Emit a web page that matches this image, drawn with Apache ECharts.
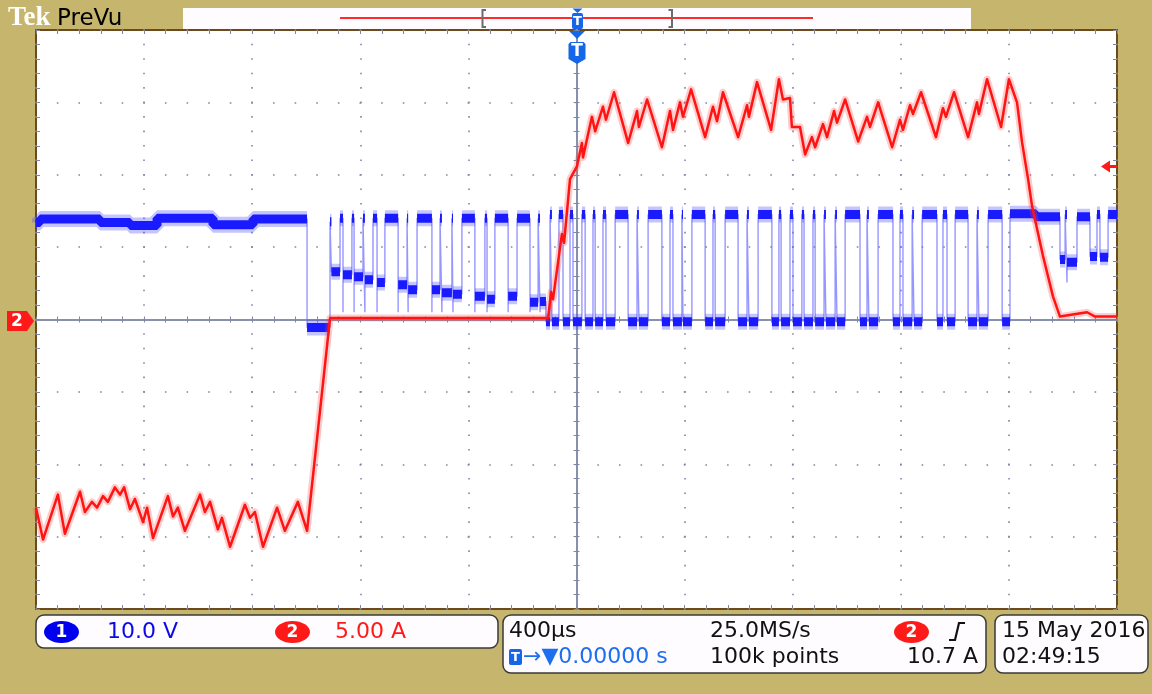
<!DOCTYPE html>
<html><head><meta charset="utf-8">
<script src="https://cdn.jsdelivr.net/npm/echarts@6/dist/echarts.min.js"></script>
<style>html,body{margin:0;padding:0;background:#c5b56d;overflow:hidden}#c{width:1152px;height:694px}</style>
</head><body><div id="c"></div>
<script>
// ---------------- DATA ----------------
// time axis (µs), 400 µs/div, trigger at 0
const timeRange = [-2000, 2000];
const timeStep = 400;
// channel 1 (V), 10 V/div : plateaus [tStart µs, tEnd µs, volts]
const ch1Segments = [
  [-2000,-1985,13.4],[-1985,-1763,13.9],[-1763,-1652,13.4],[-1652,-1552,13.0],[-1552,-1345,14.0],[-1345,-1197,13.1],[-1197,-997,13.9],
  [-997,-912,-1.1],[-912,-907,13.5],[-907,-875,6.6],
  [-875,-864,14.0],[-864,-864,1.0],[-864,-831,6.2],
  [-831,-823,14.0],[-823,-823,1.0],[-823,-790,5.9],
  [-790,-783,14.0],[-783,-783,1.0],[-783,-753,5.5],
  [-753,-738,14.0],[-738,-738,1.0],[-738,-709,5.1],
  [-709,-660,14.0],[-660,-660,1.0],[-660,-627,4.8],
  [-627,-623,14.0],[-623,-623,1.0],[-623,-590,4.1],
  [-590,-535,14.0],[-535,-535,1.0],[-535,-505,4.1],
  [-505,-498,14.0],[-498,-498,1.0],[-498,-461,3.7],
  [-461,-457,14.0],[-457,-457,1.0],[-457,-424,3.5],
  [-424,-376,14.0],[-376,-376,1.0],[-376,-339,3.2],
  [-339,-331,14.0],[-331,-331,1.0],[-331,-302,2.8],
  [-302,-253,14.0],[-253,-253,1.0],[-253,-220,3.2],
  [-220,-172,14.0],[-172,-172,1.0],[-172,-142,2.4],
  [-142,-135,14.0],[-135,-135,1.0],[-135,-113,2.5],
  [-113,-98,-0.3],
  [-98,-91,14.5],[-91,-65,-0.3],[-65,-50,14.5],[-50,-24,-0.3],[-24,-13,14.5],[-13,20,-0.3],[20,32,14.5],[32,61,-0.3],
  [61,69,14.5],[69,98,-0.3],[98,109,14.5],[109,143,-0.3],[143,191,14.5],[191,224,-0.3],[224,231,14.5],[231,265,-0.3],
  [265,316,14.5],[316,346,-0.3],[346,357,14.5],[357,390,-0.3],[390,394,14.5],[394,427,-0.3],[427,476,14.5],[476,505,-0.3],
  [505,513,14.5],[513,550,-0.3],[550,598,14.5],[598,631,-0.3],[631,638,14.5],[638,672,-0.3],[672,723,14.5],[723,749,-0.3],
  [749,757,14.5],[757,790,-0.3],[790,801,14.5],[801,834,-0.3],[834,842,14.5],[842,875,-0.3],[875,883,14.5],[883,916,-0.3],
  [916,923,14.5],[923,957,-0.3],[957,964,14.5],[964,994,-0.3],[994,1049,14.5],[1049,1075,-0.3],[1075,1082,14.5],[1082,1116,-0.3],
  [1116,1171,14.5],[1171,1197,-0.3],[1197,1208,14.5],[1208,1242,-0.3],[1242,1249,14.5],[1249,1279,-0.3],[1279,1334,14.5],[1334,1356,-0.3],
  [1356,1371,14.5],[1371,1401,-0.3],[1401,1449,14.5],[1449,1482,-0.3],[1482,1489,14.5],[1489,1523,-0.3],[1523,1575,14.5],[1575,1604,-0.3],
  [1604,1700,14.6],[1700,1789,14.2],
  [1789,1808,8.3],[1808,1815,14.5],[1815,1815,5.1],[1815,1852,7.9],[1852,1900,14.2],[1900,1926,8.7],[1926,1937,14.5],[1937,1967,8.6],[1967,2000,14.5]
];
// channel 2 (A), 5 A/div : [time µs, amps]
const ch2Points = [
  [-2000,-13.0],[-1974,-15.2],[-1919,-12.1],[-1893,-14.8],[-1837,-11.9],[-1819,-13.3],[-1793,-12.6],[-1774,-13.0],[-1752,-12.2],
  [-1734,-12.6],[-1708,-11.6],[-1689,-12.1],[-1674,-11.6],[-1652,-13.1],[-1634,-12.4],[-1604,-14.0],[-1589,-13.0],[-1567,-15.1],
  [-1512,-12.2],[-1493,-13.6],[-1475,-13.0],[-1449,-14.6],[-1393,-12.1],[-1375,-13.3],[-1356,-12.6],[-1327,-14.5],[-1312,-13.7],
  [-1282,-15.7],[-1227,-12.8],[-1208,-13.7],[-1190,-13.3],[-1160,-15.7],[-1108,-13.0],[-1079,-14.6],[-1031,-12.6],[-997,-14.6],
  [-912,0.1],[-105,0.1],[-94,1.9],[-87,1.4],[-54,5.9],[-46,5.3],[-24,9.7],[2,10.6],[20,12.2],[24,11.2],[57,14.0],[69,13.0],
  [98,14.7],[109,13.8],[139,15.7],[191,12.2],[224,14.4],[231,13.3],[261,15.2],[316,11.9],[346,14.4],[357,13.1],[383,15.0],
  [394,14.0],[424,15.9],[476,12.6],[505,14.7],[520,13.7],[542,15.7],[598,12.6],[631,14.8],[638,14.0],[668,16.4],[720,13.1],
  [749,16.6],[764,15.2],[790,15.3],[797,13.3],[827,13.3],[846,11.4],[871,12.6],[883,11.9],[912,13.5],[927,12.6],[953,14.4],
  [964,13.6],[994,15.2],[1042,12.3],[1075,14.0],[1086,13.3],[1116,15.0],[1168,11.9],[1197,13.8],[1208,13.1],[1234,14.8],
  [1245,14.2],[1275,15.7],[1330,12.6],[1356,14.6],[1367,14.0],[1397,15.7],[1449,12.6],[1482,15.0],[1489,14.2],[1519,16.6],
  [1571,13.3],[1600,16.6],[1630,15.0],[1649,12.2],[1671,9.7],[1686,7.8],[1726,4.4],[1763,1.6],[1789,0.2],[1889,0.5],[1919,0.2],[2000,0.2]
];
const ch1Scale = [-40, 40, 10];
const ch2Scale = [-20, 20, 5];
const divScale = [-4, 4, 1];
const headerTexts = ['Tek', 'PreVu'];
const ch1Label = '10.0 V', ch2Label = '5.00 A';
const timebase = '400µs', sampleRate = '25.0MS/s', recordLength = '100k points';
const triggerPos = '→▼0.00000 s', triggerLevel = '10.7 A';
const dateText = '15 May 2016', timeText = '02:49:15';

// ---------------- BUILD ----------------
const thinData = [];
ch1Segments.forEach(([a, b, v]) => { thinData.push([a, v], [b, v]); });
const thickData = [];
let prev = null;
ch1Segments.forEach(([a, b, v]) => {
  if (b <= a) { prev = null; return; }
  if (!(prev && prev[1] === a && Math.abs(prev[2] - v) < 1.5)) { if (thickData.length) thickData.push([a, '-']); }
  thickData.push([a, v], [b, v]);
  prev = [a, b, v];
});

const GR = {left: 36, top: 30, width: 1081, height: 579};
const DOT = '#7d88a6';
const minorV = GR.height / 40, minorH = GR.width / 50;
function xAx(grid, pos, opts) {
  return Object.assign({type: 'value', gridIndex: grid, position: pos, min: timeRange[0], max: timeRange[1], interval: timeStep,
    axisLabel: {show: false}, splitLine: {show: false}}, opts);
}
function yAx(grid, pos, sc, opts) {
  return Object.assign({type: 'value', gridIndex: grid, position: pos, min: sc[0], max: sc[1], interval: sc[2],
    axisLabel: {show: false}, splitLine: {show: false}}, opts);
}
const borderTick = {show: true, inside: true, length: 4, lineStyle: {color: DOT, width: 1}};
const borderMinor = {show: true, splitNumber: 5, length: 4, lineStyle: {color: DOT, width: 1}};
const centerLine = {show: true, onZero: true, lineStyle: {color: '#8891ab', width: 2}};
const cTick = {show: true, inside: true, length: 3, lineStyle: {color: DOT, width: 1}};
const cMinor = {show: true, splitNumber: 5, length: 3, lineStyle: {color: DOT, width: 1}};

const W = '#fffcff';
const TB = '#1566e8';
const txt = (x, y, text, color, size, extra) => Object.assign({type: 'text', x, y, z: 100,
  style: Object.assign({text, fill: color, fontSize: size, fontFamily: 'DejaVu Sans', verticalAlign: 'middle', align: 'left'}, extra || {})});

const graphic = [
  // header
  txt(8, 18, headerTexts[0], '#ffffff', 27, {fontFamily: 'Liberation Serif', fontWeight: 'bold'}),
  txt(57, 19, headerTexts[1], '#000000', 23),
  {type: 'rect', z: 90, shape: {x: 183, y: 8, width: 788, height: 21}, style: {fill: W}},
  {type: 'line', z: 91, shape: {x1: 340, y1: 18, x2: 813, y2: 18}, style: {stroke: '#ff2a2a', lineWidth: 2}},
  {type: 'polyline', z: 92, shape: {points: [[486, 10], [482.5, 10], [482.5, 27], [486, 27]]}, style: {stroke: '#6c6c6c', lineWidth: 2, fill: null}},
  {type: 'polyline', z: 92, shape: {points: [[668.5, 10], [672, 10], [672, 27], [668.5, 27]]}, style: {stroke: '#6c6c6c', lineWidth: 2, fill: null}},
  {type: 'polygon', z: 93, shape: {points: [[572.5, 8.5], [582.5, 8.5], [577.5, 13]]}, style: {fill: TB}},
  {type: 'rect', z: 93, shape: {x: 572, y: 13, width: 11, height: 16, r: 2}, style: {fill: TB}},
  txt(577.5, 21.5, 'T', '#ffffff', 13, {fontWeight: 'bold', align: 'center'}),
  // trigger position marker on plot
  {type: 'polygon', z: 93, shape: {points: [[569, 31], [585, 31], [577, 39]]}, style: {fill: TB}},
  {type: 'polygon', z: 93, shape: {points: [[568.5, 44], [570.5, 42], [583.5, 42], [585.5, 44], [585.5, 59], [577, 64], [568.5, 59]]}, style: {fill: TB}},
  txt(577, 51.5, 'T', '#ffffff', 17, {fontWeight: 'bold', align: 'center'}),
  // ch2 ground marker
  {type: 'polygon', z: 93, shape: {points: [[7, 311], [27, 311], [34, 321], [27, 331], [7, 331]]}, style: {fill: '#ff1a1a'}},
  txt(17, 321.5, '2', '#ffffff', 17, {fontWeight: 'bold', align: 'center'}),
  // trigger level arrow
  {type: 'polygon', z: 93, shape: {points: [[1101, 166.5], [1110, 160.5], [1110, 172.5]]}, style: {fill: '#ff1a1a'}},
  {type: 'rect', z: 93, shape: {x: 1109, y: 165, width: 8, height: 3}, style: {fill: '#ff1a1a'}},
  // bottom readouts
  {type: 'rect', z: 90, shape: {x: 36, y: 615, width: 462, height: 33, r: 8}, style: {fill: W, stroke: '#3a3a3a', lineWidth: 1.5}},
  {type: 'rect', z: 90, shape: {x: 503, y: 615, width: 483, height: 58, r: 8}, style: {fill: W, stroke: '#3a3a3a', lineWidth: 1.5}},
  {type: 'rect', z: 90, shape: {x: 995, y: 615, width: 153, height: 58, r: 8}, style: {fill: W, stroke: '#3a3a3a', lineWidth: 1.5}},
  {type: 'ellipse', z: 95, shape: {cx: 61.5, cy: 632, rx: 17.5, ry: 11}, style: {fill: '#0000ee'}},
  txt(61.5, 632.5, '1', '#ffffff', 17, {fontWeight: 'bold', align: 'center'}),
  txt(107, 632, ch1Label, '#0a0ae6', 22),
  {type: 'ellipse', z: 95, shape: {cx: 292.5, cy: 632, rx: 17.5, ry: 11}, style: {fill: '#ff1a1a'}},
  txt(292.5, 632.5, '2', '#ffffff', 17, {fontWeight: 'bold', align: 'center'}),
  txt(335, 632, ch2Label, '#ff1a1a', 22),
  txt(509, 631, timebase, '#111111', 22),
  txt(710, 631, sampleRate, '#111111', 22),
  {type: 'ellipse', z: 95, shape: {cx: 911.5, cy: 632, rx: 17.5, ry: 11}, style: {fill: '#ff1a1a'}},
  txt(911.5, 632.5, '2', '#ffffff', 17, {fontWeight: 'bold', align: 'center'}),
  {type: 'polyline', z: 95, shape: {points: [[949, 640], [955, 640], [959, 623], [965, 623]]}, style: {stroke: '#111111', lineWidth: 2.2, fill: null}},
  {type: 'rect', z: 95, shape: {x: 509, y: 649, width: 13, height: 16, r: 2}, style: {fill: TB}},
  txt(515.5, 657.5, 'T', '#ffffff', 13, {fontWeight: 'bold', align: 'center'}),
  txt(523, 657, triggerPos, '#1e6ef0', 22),
  txt(710, 657, recordLength, '#111111', 22),
  txt(978, 657, triggerLevel, '#111111', 22, {align: 'right'}),
  txt(1002, 631, dateText, '#111111', 22),
  txt(1002, 657, timeText, '#111111', 22)
];

const chart = echarts.init(document.getElementById('c'), null, {renderer: 'canvas'});
chart.setOption({
  animation: false,
  backgroundColor: '#c5b56d',
  grid: [
    Object.assign({show: true, backgroundColor: '#ffffff', borderColor: '#6b4a1f', borderWidth: 2}, GR),
    Object.assign({show: false}, GR)
  ],
  xAxis: [
    xAx(0, 'bottom', {axisLine: {show: false, onZero: false}, axisTick: borderTick, minorTick: borderMinor,
      splitLine: {show: true, lineStyle: {color: DOT, width: 1.6, type: [1.6, minorV - 1.6], dashOffset: 0.8}}}),
    xAx(0, 'top', {axisLine: {show: false, onZero: false}, axisTick: borderTick, minorTick: borderMinor}),
    xAx(1, 'bottom', {axisLine: centerLine, axisTick: cTick, minorTick: cMinor}),
    xAx(1, 'top', {axisLine: centerLine, axisTick: cTick, minorTick: cMinor})
  ],
  yAxis: [
    yAx(0, 'left', ch1Scale, {axisLine: {show: false, onZero: false}, axisTick: borderTick, minorTick: borderMinor,
      splitLine: {show: true, lineStyle: {color: DOT, width: 1.6, type: [1.6, minorH - 1.6], dashOffset: 0.8}}}),
    yAx(0, 'right', ch2Scale, {axisLine: {show: false, onZero: false}, axisTick: borderTick, minorTick: borderMinor}),
    yAx(1, 'left', divScale, {axisLine: centerLine, axisTick: cTick, minorTick: cMinor}),
    yAx(1, 'right', divScale, {axisLine: centerLine, axisTick: cTick, minorTick: cMinor})
  ],
  series: [
    {type: 'line', name: 'CH1 edges', xAxisIndex: 0, yAxisIndex: 0, data: thinData, symbol: 'none', silent: true, z: 3,
      lineStyle: {color: 'rgba(105,105,255,0.7)', width: 1.4}},
    {type: 'line', name: 'CH1 halo', xAxisIndex: 0, yAxisIndex: 0, data: thickData, symbol: 'none', silent: true, z: 4, connectNulls: false,
      lineStyle: {color: 'rgba(60,60,255,0.3)', width: 16, cap: 'butt'}},
    {type: 'line', name: 'CH1', xAxisIndex: 0, yAxisIndex: 0, data: thickData, symbol: 'none', silent: true, z: 5, connectNulls: false,
      lineStyle: {color: '#1a1aff', width: 9, cap: 'butt'}},
    {type: 'line', name: 'CH2 halo', xAxisIndex: 0, yAxisIndex: 1, data: ch2Points, symbol: 'none', silent: true, z: 6,
      lineStyle: {color: 'rgba(255,70,70,0.28)', width: 7, join: 'round'}},
    {type: 'line', name: 'CH2', xAxisIndex: 0, yAxisIndex: 1, data: ch2Points, symbol: 'none', silent: true, z: 7,
      lineStyle: {color: '#ff1414', width: 2.5, join: 'round'}}
  ],
  graphic: graphic
});
</script></body></html>
